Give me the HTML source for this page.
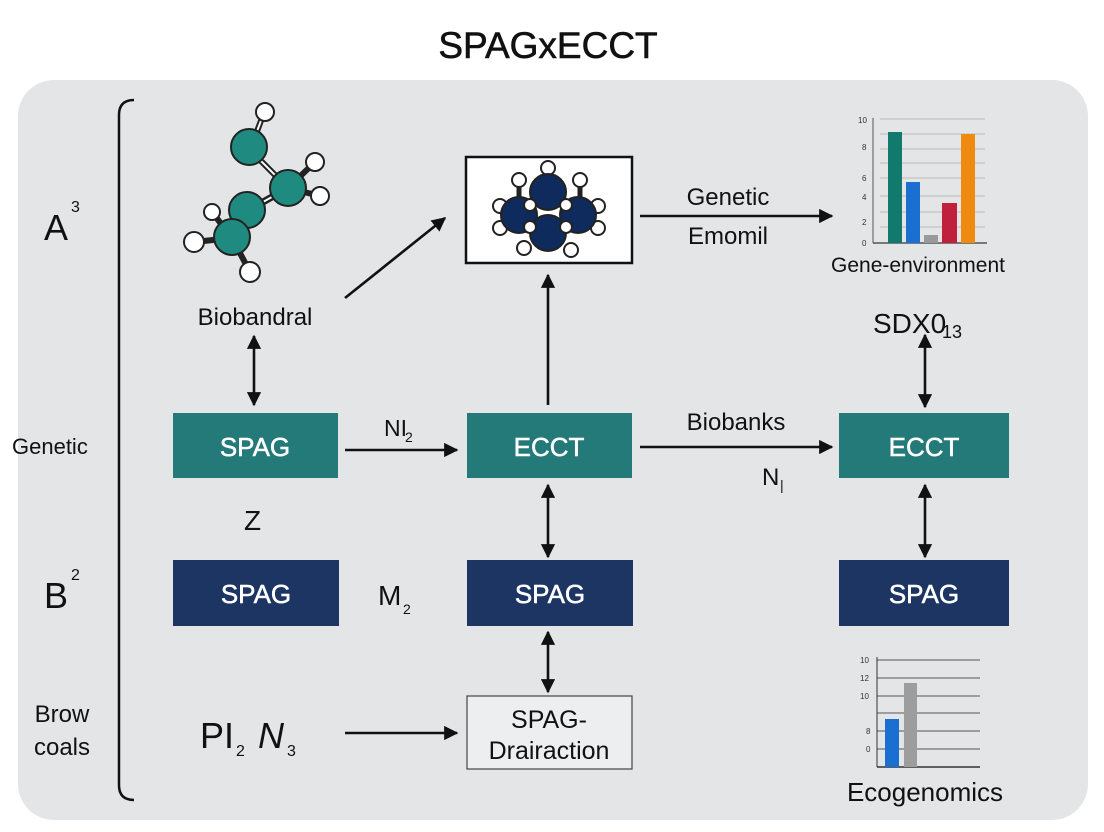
<!DOCTYPE html>
<html><head><meta charset="utf-8"><style>
html,body{margin:0;padding:0;background:#fff;}
svg{display:block;font-family:"Liberation Sans",sans-serif;}
</style></head><body>
<svg width="1104" height="832" viewBox="0 0 1104 832" xmlns="http://www.w3.org/2000/svg">
<defs>
<marker id="a" viewBox="0 0 10 10" refX="9" refY="5" markerWidth="5.5" markerHeight="5.5" orient="auto-start-reverse"><path d="M0,0L10,5L0,10z" fill="#111"/></marker>
</defs>
<rect x="0" y="0" width="1104" height="832" fill="#fff"/>
<rect x="18" y="80" width="1070" height="740" rx="36" fill="#e3e5e7"/>
<text x="548" y="58" font-size="37" text-anchor="middle" fill="#111" stroke="#111" stroke-width="0.6">SPAGxECCT</text>
<path d="M134,100 Q119,100 119,115 L119,785 Q119,800 134,800" fill="none" stroke="#111" stroke-width="2.5"/>
<text x="44" y="240" font-size="36" fill="#111">A</text><text x="71" y="212" font-size="16" fill="#111">3</text>
<text x="12" y="454" font-size="22" fill="#111">Genetic</text>
<text x="44" y="608" font-size="36" fill="#111">B</text><text x="71" y="580" font-size="16" fill="#111">2</text>
<text x="62" y="722" font-size="24" fill="#111" text-anchor="middle">Brow</text>
<text x="62" y="755" font-size="24" fill="#111" text-anchor="middle">coals</text>
<g stroke="#222" stroke-width="2">
<line x1="265" y1="110" x2="250" y2="150" stroke-width="6"/><line x1="265" y1="110" x2="250" y2="150" stroke="#fff" stroke-width="2"/>
<line x1="250" y1="150" x2="288" y2="188" stroke-width="6"/><line x1="250" y1="150" x2="288" y2="188" stroke="#fff" stroke-width="2"/>
<line x1="288" y1="188" x2="245" y2="212" stroke-width="7"/><line x1="288" y1="188" x2="245" y2="212" stroke="#fff" stroke-width="2"/>
<line x1="288" y1="188" x2="315" y2="162" stroke-width="6"/><line x1="288" y1="188" x2="320" y2="196" stroke-width="6"/>
<line x1="245" y1="212" x2="232" y2="238" stroke-width="6"/>
<line x1="232" y1="238" x2="194" y2="242" stroke-width="6"/><line x1="232" y1="238" x2="250" y2="272" stroke-width="6"/>
<line x1="232" y1="238" x2="212" y2="212" stroke-width="6"/>
<circle cx="265" cy="112" r="9" fill="#fff"/>
<circle cx="315" cy="162" r="9" fill="#fff"/><circle cx="320" cy="196" r="9" fill="#fff"/>
<circle cx="212" cy="212" r="8" fill="#fff"/><circle cx="194" cy="242" r="10" fill="#fff"/><circle cx="250" cy="272" r="10" fill="#fff"/>
<circle cx="249" cy="147" r="18" fill="#1f8a7f"/>
<circle cx="288" cy="188" r="18" fill="#1f8a7f"/>
<circle cx="247" cy="210" r="18" fill="#1f8a7f"/>
<circle cx="232" cy="237" r="18" fill="#1f8a7f"/>
</g>
<text x="255" y="325" font-size="24" fill="#111" text-anchor="middle">Biobandral</text>
<rect x="466" y="157" width="166" height="106" fill="#fff" stroke="#111" stroke-width="2.5"/>
<g stroke="#222" stroke-width="2" fill="#fff">
<line x1="548" y1="168" x2="548" y2="190" stroke-width="5"/>
<line x1="519" y1="180" x2="519" y2="205" stroke-width="5"/>
<line x1="580" y1="180" x2="580" y2="205" stroke-width="5"/>
<circle cx="548" cy="168" r="7"/><circle cx="519" cy="180" r="7"/><circle cx="580" cy="180" r="7"/>
<circle cx="500" cy="206" r="7"/><circle cx="500" cy="228" r="7"/><circle cx="598" cy="206" r="7"/><circle cx="598" cy="228" r="7"/>
<circle cx="524" cy="248" r="7"/><circle cx="571" cy="250" r="7"/>
<circle cx="548" cy="192" r="18" fill="#0f2a5c"/>
<circle cx="519" cy="215" r="18" fill="#0f2a5c"/>
<circle cx="578" cy="215" r="18" fill="#0f2a5c"/>
<circle cx="548" cy="233" r="18" fill="#0f2a5c"/>
<circle cx="530" cy="205" r="6"/><circle cx="566" cy="205" r="6"/><circle cx="566" cy="227" r="6"/><circle cx="530" cy="227" r="6"/>
</g>
<g font-size="8" fill="#333">
<g stroke="#bbb" stroke-width="1"><line x1="880" y1="119" x2="985" y2="119"/><line x1="880" y1="134" x2="985" y2="134"/><line x1="880" y1="149" x2="985" y2="149"/><line x1="880" y1="163" x2="985" y2="163"/><line x1="880" y1="178" x2="985" y2="178"/><line x1="880" y1="196" x2="985" y2="196"/><line x1="880" y1="212" x2="985" y2="212"/><line x1="880" y1="227" x2="985" y2="227"/></g>
<line x1="873" y1="118" x2="873" y2="243" stroke="#555"/><line x1="873" y1="243" x2="987" y2="243" stroke="#555" stroke-width="1.5"/>
<text x="858" y="123">10</text><text x="862" y="150">8</text><text x="862" y="181">6</text><text x="862" y="200">4</text><text x="862" y="225">2</text><text x="862" y="246">0</text>
<rect x="888" y="132" width="14" height="111" fill="#127a6c"/>
<rect x="906" y="182" width="14" height="61" fill="#1a6fd0"/>
<rect x="924" y="235" width="14" height="8" fill="#999"/>
<rect x="942" y="203" width="15" height="40" fill="#c0203b"/>
<rect x="961" y="134" width="14" height="109" fill="#ee8a12"/>
</g>
<text x="918" y="272" font-size="21" fill="#111" text-anchor="middle">Gene-environment</text>
<text x="873" y="333" font-size="28" fill="#111">SDΧ0</text><text x="942" y="338" font-size="18" fill="#111">13</text>
<g stroke="#111" stroke-width="2.6" fill="none">
<line x1="254" y1="336" x2="254" y2="405" marker-start="url(#a)" marker-end="url(#a)"/>
<line x1="345" y1="298" x2="445" y2="218" marker-end="url(#a)"/>
<line x1="640" y1="216" x2="832" y2="216" marker-end="url(#a)"/>
<line x1="548" y1="405" x2="548" y2="275" marker-end="url(#a)"/>
<line x1="345" y1="450" x2="457" y2="450" marker-end="url(#a)"/>
<line x1="640" y1="447" x2="832" y2="447" marker-end="url(#a)"/>
<line x1="925" y1="335" x2="925" y2="407" marker-start="url(#a)" marker-end="url(#a)"/>
<line x1="548" y1="485" x2="548" y2="557" marker-start="url(#a)" marker-end="url(#a)"/>
<line x1="925" y1="485" x2="925" y2="557" marker-start="url(#a)" marker-end="url(#a)"/>
<line x1="548" y1="632" x2="548" y2="692" marker-start="url(#a)" marker-end="url(#a)"/>
<line x1="345" y1="733" x2="457" y2="733" marker-end="url(#a)"/>
</g>
<text x="728" y="205" font-size="24" fill="#111" text-anchor="middle">Genetic</text>
<text x="728" y="244" font-size="24" fill="#111" text-anchor="middle">Emomil</text>
<text x="384" y="436" font-size="23" fill="#111">NI</text><text x="405" y="442" font-size="14" fill="#111">2</text>
<text x="736" y="430" font-size="24" fill="#111" text-anchor="middle">Biobanks</text>
<text x="762" y="485" font-size="24" fill="#111">N</text><text x="780" y="490" font-size="14" fill="#111">|</text>
<text x="244" y="530" font-size="28" fill="#111">Z</text>
<text x="378" y="605" font-size="28" fill="#111">M</text><text x="403" y="614" font-size="14" fill="#111">2</text>
<text x="200" y="748" font-size="36" fill="#111">PI</text><text x="236" y="756" font-size="16" fill="#111">2</text>
<text x="258" y="748" font-size="36" fill="#111" font-style="italic">N</text><text x="287" y="756" font-size="16" fill="#111">3</text>
<g font-size="26" fill="#fff" text-anchor="middle" stroke="#fff" stroke-width="0.5">
<rect x="173" y="413" width="165" height="65" fill="#237a78" stroke="none"/>
<text x="255" y="456">SPAG</text>
<rect x="467" y="413" width="165" height="65" fill="#237a78" stroke="none"/>
<text x="549" y="456">ECCT</text>
<rect x="839" y="413" width="170" height="65" fill="#237a78" stroke="none"/>
<text x="924" y="456">ECCT</text>
<rect x="173" y="560" width="166" height="66" fill="#1c3563" stroke="none"/>
<text x="256" y="603">SPAG</text>
<rect x="467" y="560" width="166" height="66" fill="#1c3563" stroke="none"/>
<text x="550" y="603">SPAG</text>
<rect x="839" y="560" width="170" height="66" fill="#1c3563" stroke="none"/>
<text x="924" y="603">SPAG</text>
</g>
<rect x="467" y="696" width="165" height="73" fill="#eceeef" stroke="#444" stroke-width="1.2"/>
<text x="549" y="728" font-size="25" fill="#111" text-anchor="middle">SPAG-</text>
<text x="549" y="759" font-size="25" fill="#111" text-anchor="middle">Drairaction</text>
<g font-size="8" fill="#333">
<g stroke="#555" stroke-width="1"><line x1="877" y1="660" x2="980" y2="660"/><line x1="877" y1="678" x2="980" y2="678"/><line x1="877" y1="696" x2="980" y2="696"/><line x1="877" y1="713" x2="980" y2="713"/><line x1="877" y1="731" x2="980" y2="731"/><line x1="877" y1="749" x2="980" y2="749"/></g>
<line x1="877" y1="657" x2="877" y2="767" stroke="#333"/><line x1="877" y1="767" x2="980" y2="767" stroke="#333" stroke-width="1.5"/>
<text x="860" y="663">10</text><text x="860" y="681">12</text><text x="860" y="699">10</text><text x="866" y="734">8</text><text x="866" y="752">0</text>
<rect x="885" y="719" width="14" height="48" fill="#1a6fd0"/>
<rect x="904" y="683" width="13" height="84" fill="#9d9d9d"/>
</g>
<text x="925" y="801" font-size="26" fill="#111" text-anchor="middle">Ecogenomics</text>
</svg>
</body></html>
